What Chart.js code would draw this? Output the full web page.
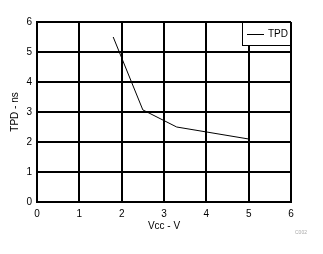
<!DOCTYPE html>
<html>
<head>
<meta charset="utf-8">
<script src="https://cdn.jsdelivr.net/npm/chart.js@4"></script>
<style>
  html, body { margin: 0; padding: 0; background: #fff; }
  #wrap { width: 323px; height: 254px; }
</style>
</head>
<body>
<div id="wrap"><canvas id="chart1" width="323" height="254"></canvas></div>
<script>
// supply voltage (V) and propagation delay (ns)
let vcc = [1.8, 2.5, 3.3, 5];
let tpd = [5.5, 3.07, 2.5, 2.1];
let seriesName = 'TPD';

let xTicks = [0, 1, 2, 3, 4, 5, 6];
let yTicks = [0, 1, 2, 3, 4, 5, 6];

let points = vcc.map((v, i) => ({ x: v, y: tpd[i] }));

let font = { family: 'Arial, "Liberation Sans", sans-serif', size: 10 };

// legend box in the upper right corner of the plot
let legendBox = {
  id: 'legendBox',
  afterDraw(chart) {
    let ctx = chart.ctx;
    let area = chart.chartArea;
    let w = 49, h = 24;
    let x0 = area.right - w, y0 = area.top;
    ctx.save();
    ctx.fillStyle = '#fff';
    ctx.fillRect(x0, y0, w, h);
    ctx.strokeStyle = '#000';
    ctx.lineWidth = 1;
    ctx.strokeRect(x0 + 0.5, y0 + 0.5, w - 1, h - 1);
    ctx.beginPath();
    ctx.moveTo(x0 + 5, y0 + 12.5);
    ctx.lineTo(x0 + 22, y0 + 12.5);
    ctx.stroke();
    ctx.fillStyle = '#000';
    ctx.font = '10px Arial, "Liberation Sans", sans-serif';
    ctx.textBaseline = 'middle';
    ctx.fillText(chart.data.datasets[0].label, x0 + 26, y0 + 12.5);
    // little figure code
    ctx.fillStyle = '#aaa';
    ctx.font = '5px Arial, "Liberation Sans", sans-serif';
    ctx.fillText('C002', 295, 233);
    ctx.restore();
  }
};

let options = {
  type: 'scatter',
  data: {
    datasets: [{
      label: seriesName,
      data: points,
      showLine: true,
      borderColor: '#000',
      borderWidth: 1,
      pointRadius: 0,
      tension: 0
    }]
  },
  options: {
    responsive: false,
    animation: false,
    layout: { padding: { top: 22, right: 32, left: 0, bottom: 0 } },
    plugins: { legend: { display: false }, tooltip: { enabled: false } },
    scales: {
      x: {
        type: 'linear', min: 0, max: 6,
        afterBuildTicks: s => { s.ticks = xTicks.map(v => ({ value: v })); },
        afterFit: s => { s.height = 52; },
        grid: { color: '#000', lineWidth: 2, drawTicks: false },
        border: { color: '#000', width: 2 },
        ticks: { color: '#000', font: font, padding: 6, maxRotation: 0 },
        title: { display: true, text: 'Vcc - V', color: '#000', font: font, padding: { top: 0, bottom: 22 } }
      },
      y: {
        type: 'linear', min: 0, max: 6,
        afterBuildTicks: s => { s.ticks = yTicks.map(v => ({ value: v })); },
        afterFit: s => { s.width = 37; },
        grid: { color: '#000', lineWidth: 2, drawTicks: false },
        border: { color: '#000', width: 2 },
        ticks: { color: '#000', font: font, padding: 5 },
        title: { display: true, text: 'TPD - ns', color: '#000', font: font, padding: { top: 9, bottom: 0 } }
      }
    }
  },
  plugins: [legendBox]
};

let chart = new Chart(document.getElementById('chart1'), options);
</script>
</body>
</html>
